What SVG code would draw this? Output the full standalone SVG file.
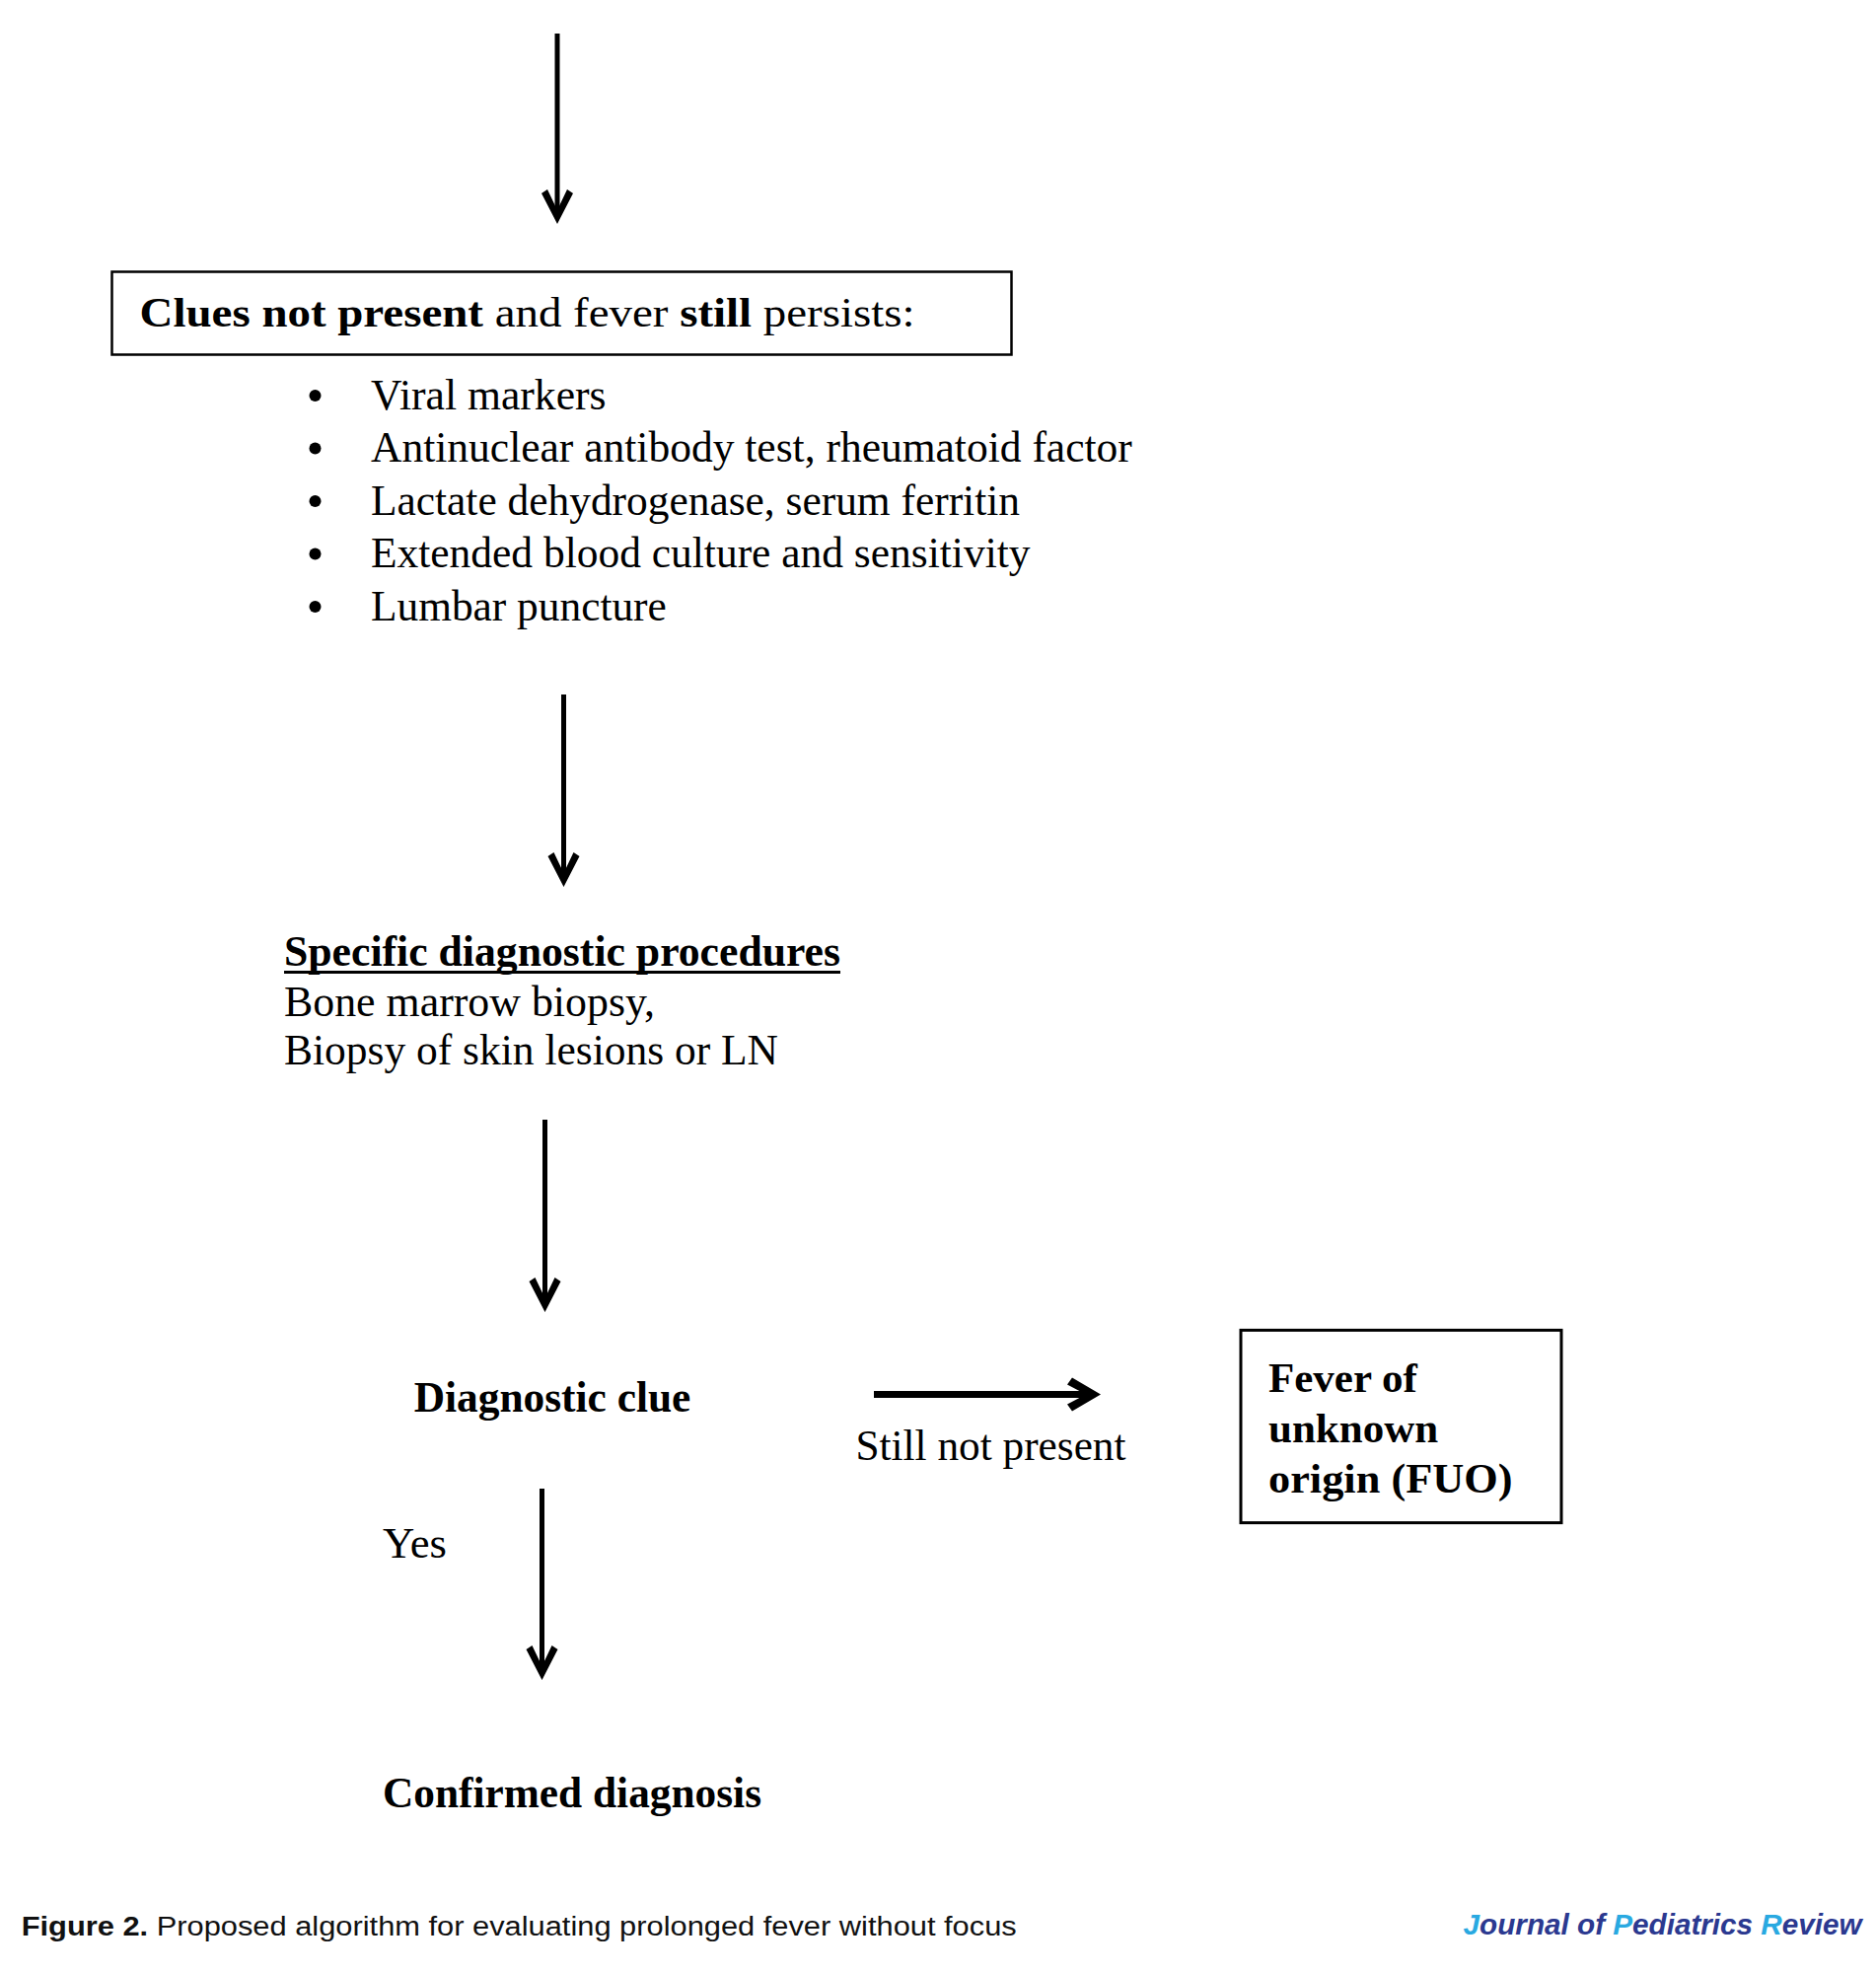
<svg xmlns="http://www.w3.org/2000/svg" width="1902" height="2000" viewBox="0 0 1902 2000">
<defs>
<style>
.serif{font-family:"Liberation Serif","Times New Roman",serif;fill:#000}
.body{font-size:43.5px}
.b{font-weight:bold}
.box{fill:#fff;stroke:#000;stroke-width:2.5}
.conn{stroke:#000;stroke-width:5;fill:none}
.cap{font-family:"Liberation Sans",Arial,sans-serif;font-size:27px;fill:#111}
.jr{font-family:"Liberation Sans",Arial,sans-serif;font-size:29px;font-style:italic;font-weight:bold}
</style>
<marker id="arr" markerUnits="userSpaceOnUse" viewBox="-36 -18 38 36" refX="-10" refY="0" markerWidth="38" markerHeight="36" orient="auto">
<path d="M0,0 L-31,-16 L-35,-10 L-14,0 L-35,10 L-31,16 Z" fill="#000"/>
</marker>
<marker id="arrH" markerUnits="userSpaceOnUse" viewBox="-36 -18 38 36" refX="-11" refY="0" markerWidth="38" markerHeight="36" orient="auto">
<path d="M0,0 L-29,-17 L-34,-10 L-15,0 L-34,10 L-29,17 Z" fill="#000"/>
</marker>
</defs>
<rect width="1902" height="2000" fill="#fff"/>

<g id="connectors">
<line class="conn" x1="565" y1="34" x2="565" y2="217" marker-end="url(#arr)"/>
<line class="conn" x1="571.5" y1="704" x2="571.5" y2="889" marker-end="url(#arr)"/>
<line class="conn" x1="552.5" y1="1135" x2="552.5" y2="1320" marker-end="url(#arr)"/>
<line class="conn" x1="549.5" y1="1509" x2="549.5" y2="1693" marker-end="url(#arr)"/>
<line class="conn" x1="886" y1="1413.5" x2="1105" y2="1413.5" style="stroke-width:7" marker-end="url(#arrH)"/>
<text class="serif body" x="867.5" y="1480" textLength="274" lengthAdjust="spacingAndGlyphs">Still not present</text>
<text class="serif body" x="388" y="1579" textLength="65" lengthAdjust="spacingAndGlyphs">Yes</text>
</g>

<g id="node-clues">
<rect class="box" x="113.5" y="275.5" width="912" height="84"/>
<text class="serif" x="141.6" y="331" font-size="42" textLength="786" lengthAdjust="spacingAndGlyphs"><tspan class="b">Clues not present</tspan> and fever <tspan class="b">still</tspan> persists:</text>
</g>

<g id="node-tests">
<g fill="#000">
<circle cx="319.5" cy="401" r="6"/>
<circle cx="319.5" cy="454.5" r="6"/>
<circle cx="319.5" cy="508" r="6"/>
<circle cx="319.5" cy="561.5" r="6"/>
<circle cx="319.5" cy="615" r="6"/>
</g>
<text class="serif body" x="376" y="414.6" textLength="238.6" lengthAdjust="spacingAndGlyphs">Viral markers</text>
<text class="serif body" x="376" y="468.2" textLength="771.8" lengthAdjust="spacingAndGlyphs">Antinuclear antibody test, rheumatoid factor</text>
<text class="serif body" x="376" y="521.8" textLength="658" lengthAdjust="spacingAndGlyphs">Lactate dehydrogenase, serum ferritin</text>
<text class="serif body" x="376" y="575.3" textLength="668.5" lengthAdjust="spacingAndGlyphs">Extended blood culture and sensitivity</text>
<text class="serif body" x="376" y="628.9" textLength="299.8" lengthAdjust="spacingAndGlyphs">Lumbar puncture</text>
</g>

<g id="node-specific">
<text class="serif body b" x="288" y="979" textLength="564" lengthAdjust="spacingAndGlyphs">Specific diagnostic procedures</text>
<line x1="288" y1="985.5" x2="852" y2="985.5" stroke="#000" stroke-width="3"/>
<text class="serif body" x="288" y="1030" textLength="376" lengthAdjust="spacingAndGlyphs">Bone marrow biopsy,</text>
<text class="serif body" x="288" y="1078.5" textLength="501" lengthAdjust="spacingAndGlyphs">Biopsy of skin lesions or LN</text>
</g>

<g id="node-clue">
<text class="serif body b" x="419.7" y="1431" textLength="280.7" lengthAdjust="spacingAndGlyphs">Diagnostic clue</text>
</g>

<g id="node-fuo">
<rect class="box" x="1258" y="1348.4" width="325" height="195.2" style="stroke-width:3"/>
<text class="serif b" font-size="43" x="1286" y="1411">Fever of</text>
<text class="serif b" font-size="43" x="1286" y="1462">unknown</text>
<text class="serif b" font-size="43" x="1286" y="1513" textLength="247.5" lengthAdjust="spacingAndGlyphs">origin (FUO)</text>
</g>

<g id="node-confirmed">
<text class="serif body b" x="388" y="1832" textLength="384" lengthAdjust="spacingAndGlyphs">Confirmed diagnosis</text>
</g>

<g id="caption">
<text class="cap" x="21.7" y="1962" textLength="1009" lengthAdjust="spacingAndGlyphs"><tspan font-weight="bold">Figure 2.</tspan> Proposed algorithm for evaluating prolonged fever without focus</text>
<text class="jr" x="1483.6" y="1961" textLength="404" lengthAdjust="spacingAndGlyphs"><tspan fill="#29a9e1">J</tspan><tspan fill="#2b3990">ournal of </tspan><tspan fill="#29a9e1">P</tspan><tspan fill="#2b3990">ediatrics </tspan><tspan fill="#29a9e1">R</tspan><tspan fill="#2b3990">eview</tspan></text>
</g>
</svg>
